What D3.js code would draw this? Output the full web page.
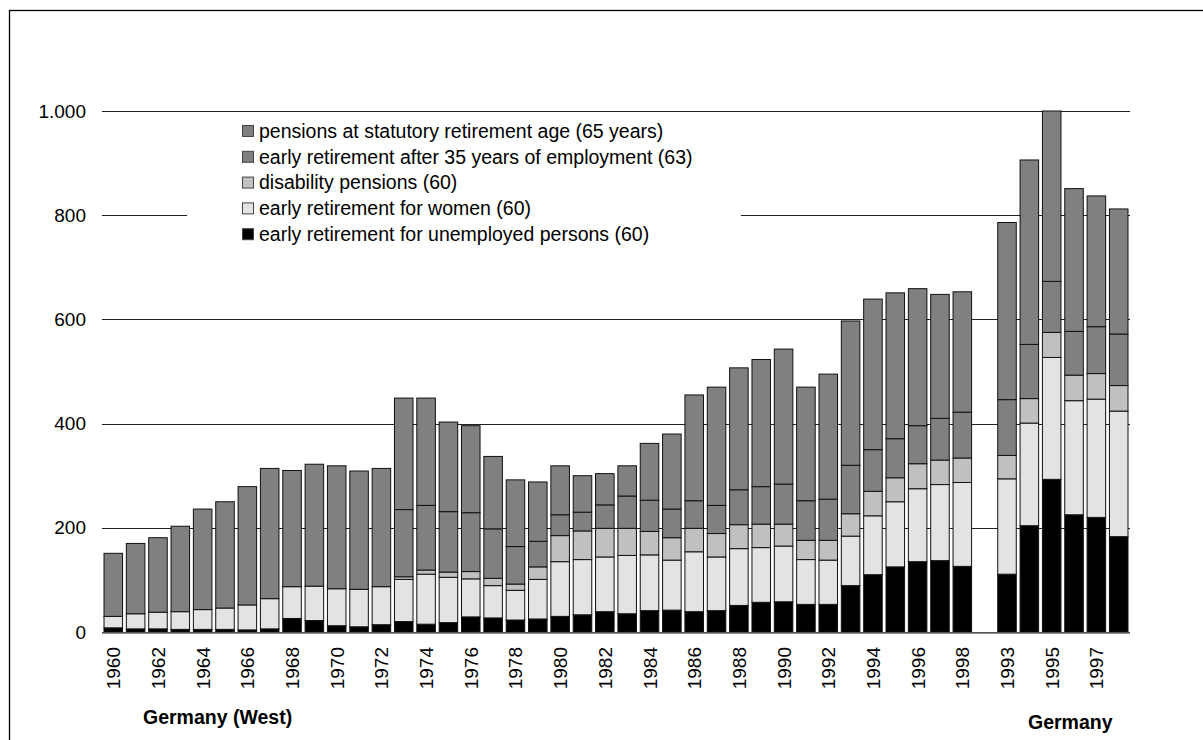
<!DOCTYPE html>
<html>
<head>
<meta charset="utf-8">
<script src="https://cdn.jsdelivr.net/npm/d3@7"></script>
<style>
  body { margin: 0; background: #fff; }
  text { font-family: "Liberation Sans", Arial, sans-serif; }
</style>
</head>
<body>
<div id="chart_div"></div>
<script>
// categories: West Germany 1960-1998, an empty slot, then Germany 1993-1998
const years = ["1960","1961","1962","1963","1964","1965","1966","1967","1968","1969",
  "1970","1971","1972","1973","1974","1975","1976","1977","1978","1979",
  "1980","1981","1982","1983","1984","1985","1986","1987","1988","1989",
  "1990","1991","1992","1993","1994","1995","1996","1997","1998",
  "",
  "1993","1994","1995","1996","1997","1998"];

// thousands
const unemployed = [8,6,6,5,5,5,4,6,26,22, 12,10,14,20,15,18,29,27,23,25,
  30,33,39,35,41,42,39,41,51,57, 58,53,53,89,110,125,135,137,126, 0,
  111,204,293,225,220,183];
const women = [22,29,32,34,38,41,48,58,61,66, 71,72,73,81,96,87,73,62,57,76,
  105,106,105,112,107,96,115,103,109,105, 107,86,85,95,113,125,140,146,161, 0,
  183,197,234,219,227,241];
const disability = [0,0,0,0,0,0,0,0,0,0, 0,0,0,5,8,10,14,14,12,24,
  50,55,55,52,45,43,45,45,46,45, 42,37,38,43,47,46,48,47,47, 0,
  45,47,48,49,49,49];
const early35 = [0,0,0,0,0,0,0,0,0,0, 0,0,0,129,124,116,113,95,72,49,
  40,36,45,62,60,55,53,54,67,72, 77,76,79,93,80,75,73,80,88, 0,
  107,104,98,84,90,99];
const statutory = [121,135,143,164,193,204,227,250,223,234, 236,227,227,214,206,172,167,139,128,114,
  94,70,60,58,109,144,203,227,234,244, 259,218,240,277,289,280,263,238,231, 0,
  340,354,327,274,251,240];

const yTicks = [0, 200, 400, 600, 800, 1000];
const yTickLabels = ["0", "200", "400", "600", "800", "1.000"];

const seriesKeys = ["unemployed", "women", "disability", "early35", "statutory"];
const seriesNames = {
  statutory: "pensions at statutory retirement age (65 years)",
  early35: "early retirement after 35 years of employment (63)",
  disability: "disability pensions (60)",
  women: "early retirement for women (60)",
  unemployed: "early retirement for unemployed persons (60)"
};
const seriesColors = {
  unemployed: "#000000",
  women: "#e3e3e3",
  disability: "#c0c0c0",
  early35: "#808080",
  statutory: "#808080"
};

const width = 1203, height = 740;

const svg = d3.select("#chart_div")
  .append("svg")
    .attr("width", width)
    .attr("height", height);

svg.append("rect").attr("width", width).attr("height", height).attr("fill", "#fff");

// outer frame
svg.append("rect")
  .attr("x", 9.5).attr("y", 10.5)
  .attr("width", 1200).attr("height", 740)
  .attr("fill", "none").attr("stroke", "#000").attr("stroke-width", 1.3);

const plot = {left: 102, right: 1130, top: 111, bottom: 632};

const x = d3.scaleBand()
  .domain(d3.range(years.length))
  .range([plot.left, plot.right])
  .paddingInner(0.17)
  .paddingOuter(0.09);

const y = d3.scaleLinear()
  .domain([0, 1000])
  .range([plot.bottom, plot.top]);

// gridlines
svg.append("g")
  .selectAll("line")
  .data(yTicks)
  .join("line")
    .attr("x1", plot.left).attr("x2", plot.right)
    .attr("y1", d => Math.round(y(d)) + 0.5)
    .attr("y2", d => Math.round(y(d)) + 0.5)
    .attr("stroke", "#222").attr("stroke-width", 1);

// y labels
svg.append("g")
  .selectAll("text")
  .data(yTicks)
  .join("text")
    .attr("x", 86)
    .attr("y", d => y(d))
    .attr("dy", "0.35em")
    .attr("text-anchor", "end")
    .style("font-size", "19px")
    .text((d, i) => yTickLabels[i]);

// stack the data
const rows = years.map((yr, i) => ({
  idx: i,
  unemployed: unemployed[i], women: women[i], disability: disability[i],
  early35: early35[i], statutory: statutory[i]
}));
const stackedData = d3.stack().keys(seriesKeys)(rows);

svg.append("g")
  .selectAll("g")
  .data(stackedData)
  .join("g")
    .attr("fill", d => seriesColors[d.key])
  .selectAll("rect")
  .data(d => d.filter(s => s[1] - s[0] > 0))
  .join("rect")
    .attr("x", d => x(d.data.idx))
    .attr("width", x.bandwidth())
    .attr("y", d => y(d[1]))
    .attr("height", d => y(d[0]) - y(d[1]))
    .attr("stroke", "#111")
    .attr("stroke-width", 1);

// baseline on top of the bars
svg.append("line")
  .attr("x1", plot.left).attr("x2", plot.right)
  .attr("y1", plot.bottom + 1).attr("y2", plot.bottom + 1)
  .attr("stroke", "#666").attr("stroke-width", 1.5);

// x labels, every second slot
svg.append("g")
  .selectAll("text")
  .data(years.map((t, i) => ({t, i})).filter(d => d.i % 2 === 0 && d.t !== ""))
  .join("text")
    .attr("transform", d => `translate(${x(d.i) + x.bandwidth() / 2 + 7}, 647) rotate(-90)`)
    .attr("text-anchor", "end")
    .style("font-size", "19px")
    .text(d => d.t);

// group labels
svg.append("text")
  .attr("x", 143).attr("y", 724)
  .style("font-size", "19.5px").style("font-weight", "bold")
  .text("Germany (West)");
svg.append("text")
  .attr("x", 1028).attr("y", 729)
  .style("font-size", "19.5px").style("font-weight", "bold")
  .text("Germany");

// legend
const legendKeys = ["statutory", "early35", "disability", "women", "unemployed"];
const legend = svg.append("g");
legend.append("rect")
  .attr("x", 187).attr("y", 118)
  .attr("width", 554).attr("height", 127)
  .attr("fill", "#fff");
const item = legend.selectAll("g.item")
  .data(legendKeys)
  .join("g")
    .attr("class", "item")
    .attr("transform", (d, i) => `translate(242, ${131 + i * 25.8})`);
item.append("rect")
  .attr("x", 0.5).attr("y", -5.5)
  .attr("width", 11).attr("height", 11)
  .attr("fill", d => seriesColors[d])
  .attr("stroke", "#444").attr("stroke-width", 1);
item.append("text")
  .attr("x", 17).attr("y", 0)
  .attr("dy", "0.35em")
  .style("font-size", "19.5px")
  .text(d => seriesNames[d]);
</script>
</body>
</html>
